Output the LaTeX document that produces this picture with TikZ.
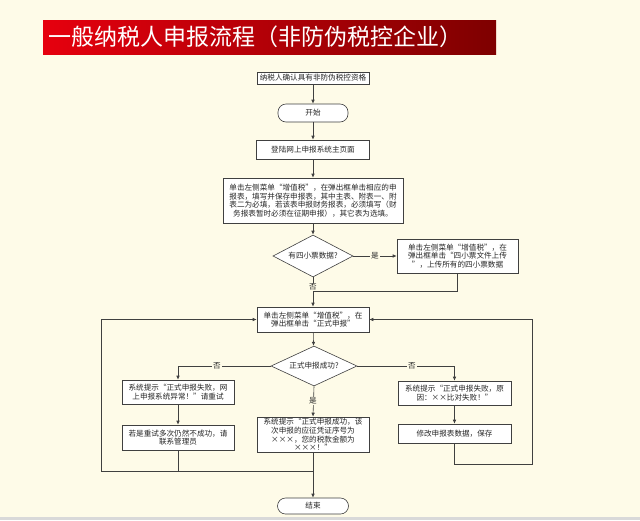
\documentclass[tikz,border=0pt]{standalone}
\usepackage{fontspec}
\setmainfont{Noto Sans CJK SC}
\usetikzlibrary{shapes.geometric,arrows.meta}
\definecolor{bg}{HTML}{FEFBE8}
\definecolor{ln}{HTML}{404040}
\definecolor{txt}{HTML}{262626}
\definecolor{redL}{HTML}{E6000E}
\definecolor{redR}{HTML}{7E0000}
\tikzset{
  box/.style={draw=ln, fill=white, line width=0.6pt, inner sep=1pt, align=center,
    font=\fontsize{7.6}{8.6}\selectfont, text=txt},
  term/.style={box, rounded corners=8pt},
  dia/.style={draw=ln, fill=white, line width=0.6pt, diamond, aspect=2, inner sep=0pt,
    font=\fontsize{7.6}{8.6}\selectfont, text=txt},
  conn/.style={draw=ln, line width=0.6pt},
  arr/.style={conn, -{Latex[length=4pt,width=3.5pt]}},
  lab/.style={fill=bg, inner sep=1pt, font=\fontsize{7.6}{8.6}\selectfont, text=txt},
}
\begin{document}
\begin{tikzpicture}[x=1pt,y=-1pt]
\fill[bg] (0,0) rectangle (640,520);
\useasboundingbox (0,0) rectangle (640,520);
\fill[black!15] (0,517) rectangle (640,520);
% title
\shade[left color=redL, right color=redR] (43,20) rectangle (496,54);
\node[anchor=west, text=white, font=\fontsize{23}{26}\selectfont, inner sep=0pt] (title) at (48,37) {一般纳税人申报流程（非防伪税控企业）};
% nodes
\node[box, minimum width=112pt, minimum height=12pt] (n1) at (313,78) {纳税人确认具有非防伪税控资格};
\node[term, minimum width=70pt, minimum height=18pt] (start) at (313,113) {开始};
\node[box, minimum width=113pt, minimum height=19pt] (login) at (313,149.5) {登陆网上申报系统主页面};
\node[box, minimum width=180pt, minimum height=45pt] (big) at (313,200.5) {单击左侧菜单“增值税”，在弹出框单击相应的申\\报表，填写并保存申报表，其中主表、附表一、附\\表二为必填，若该表申报财务报表，必须填写（财\\务报表暂时必须在征期申报），其它表为选填。};
\node[dia, minimum width=80pt, minimum height=42pt] (d1) at (313,256) {有四小票数据?};
\node[box, minimum width=121pt, minimum height=34pt] (r1) at (457.5,256) {单击左侧菜单“增值税”，在\\弹出框单击“四小票文件上传\\”，上传所有的四小票数据};
\node[box, minimum width=112pt, minimum height=25pt] (fm) at (313,319.5) {单击左侧菜单“增值税”，在\\弹出框单击“正式申报”};
\node[dia, minimum width=86pt, minimum height=40pt] (d2) at (314,366) {正式申报成功?};
\node[box, minimum width=112pt, minimum height=24pt] (L1) at (178,392) {系统提示“正式申报失败，网\\上申报系统异常！”请重试};
\node[box, minimum width=112pt, minimum height=25pt] (L2) at (178,437.5) {若是重试多次仍然不成功，请\\联系管理员};
\node[box, minimum width=112pt, minimum height=35pt] (S) at (313,434.5) {系统提示“正式申报成功，该\\次申报的应征凭证序号为\\×××，您的税款金额为\\×××！”};
\node[box, minimum width=113pt, minimum height=24pt] (R1) at (454.5,393) {系统提示“正式申报失败，原\\因：××比对失败！”};
\node[box, minimum width=113pt, minimum height=19pt] (R2) at (454.5,433.5) {修改申报表数据，保存};
\node[term, minimum width=71pt, minimum height=16pt] (end) at (313,506) {结束};
% helper coordinates
\coordinate (j1) at (313,291);
\coordinate (jL) at (313,471);
\coordinate (loopL) at (101,471);
\coordinate (loopR) at (532,464);
% connectors
\draw[arr] (n1) -- (start);
\draw[arr] (start) -- (login);
\draw[arr] (login) -- (big);
\draw[arr] (big) -- (d1);
\draw[arr] (d1.east) -- node[lab] {是} (r1.west);
\draw[conn] (r1.south) |- (j1);
\draw[arr] (d1.south) -- (fm.north);
\node[lab] (no1) at (313,287) {否};
\draw[arr] (fm) -- (d2);
\draw[arr] (d2.west) -| (L1.north);
\node[lab] (no2) at (217,366) {否};
\draw[arr] (d2.east) -| (R1.north);
\node[lab] (no3) at (412,366) {否};
\draw[arr] (d2.south) -- (S.north);
\node[lab] (yes2) at (313,401) {是};
\draw[arr] (L1) -- (L2);
\draw[arr] (R1) -- (R2);
\draw[arr] (S.south) -- (end.north);
\draw[conn] (L2.south) -- (L2.south |- jL);
\draw[arr] (jL) -- (loopL) |- (fm.west);
\draw[arr] (R2.south) |- (loopR) |- (fm.east);
\end{tikzpicture}
\end{document}
